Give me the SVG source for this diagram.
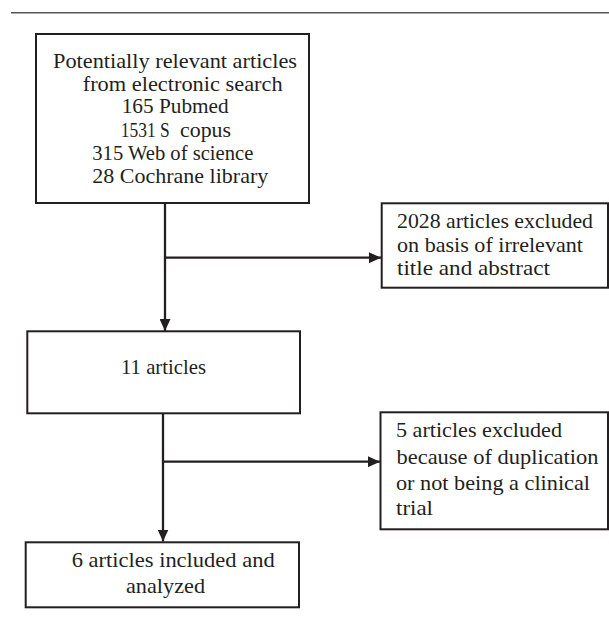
<svg xmlns="http://www.w3.org/2000/svg" width="609" height="617" viewBox="0 0 609 617">
<style>
.box{fill:#fff;stroke:#231f20;stroke-width:2}
.t{font-family:'Liberation Serif','Times New Roman',serif;font-size:21px;fill:#231f20}
.c{fill:none;stroke:#231f20;stroke-width:2.3}
</style>
<defs>
<marker id="ah" viewBox="0 0 12 11" refX="12" refY="5.5" markerWidth="12" markerHeight="11" markerUnits="userSpaceOnUse" orient="auto">
<path d="M0,0 L12,5.5 L0,11 Z" fill="#231f20"/>
</marker>
</defs>
<rect width="609" height="617" fill="#fff"/>
<line x1="11" y1="12.7" x2="609" y2="12.7" stroke="#555" stroke-width="1.6"/>
<g id="n1">
<rect class="box" x="36" y="34" width="273" height="169"/>
<text class="t" x="53" y="68" textLength="244" lengthAdjust="spacingAndGlyphs">Potentially relevant articles</text>
<text class="t" x="82.7" y="90.7" textLength="200" lengthAdjust="spacingAndGlyphs">from electronic search</text>
<text class="t" x="121.7" y="113.3" textLength="107" lengthAdjust="spacingAndGlyphs">165 Pubmed</text>
<text class="t" y="136.7"><tspan x="120.7" textLength="49" lengthAdjust="spacingAndGlyphs">1531 S</tspan> <tspan x="180" textLength="51" lengthAdjust="spacingAndGlyphs">copus</tspan></text>
<text class="t" x="92.3" y="160" textLength="161" lengthAdjust="spacingAndGlyphs">315 Web of science</text>
<text class="t" x="92.3" y="183" textLength="176" lengthAdjust="spacingAndGlyphs">28 Cochrane library</text>
</g>
<g id="n2">
<rect class="box" x="381.7" y="203.3" width="226.3" height="84.4"/>
<text class="t" x="397" y="228.3" textLength="196" lengthAdjust="spacingAndGlyphs">2028 articles excluded</text>
<text class="t" x="397" y="251.7" textLength="186" lengthAdjust="spacingAndGlyphs">on basis of irrelevant</text>
<text class="t" x="397" y="275" textLength="153" lengthAdjust="spacingAndGlyphs">title and abstract</text>
</g>
<g id="n3">
<rect class="box" x="27.3" y="331.3" width="272.7" height="82"/>
<text class="t" x="121" y="374" textLength="85" lengthAdjust="spacingAndGlyphs">11 articles</text>
</g>
<g id="n4">
<rect class="box" x="380.5" y="412.3" width="227.5" height="117"/>
<text class="t" x="396" y="436.7" textLength="166" lengthAdjust="spacingAndGlyphs">5 articles excluded</text>
<text class="t" x="396.5" y="463.5" textLength="202" lengthAdjust="spacingAndGlyphs">because of duplication</text>
<text class="t" x="396" y="490" textLength="194" lengthAdjust="spacingAndGlyphs">or not being a clinical</text>
<text class="t" x="396" y="515" textLength="37" lengthAdjust="spacingAndGlyphs">trial</text>
</g>
<g id="n5">
<rect class="box" x="25.7" y="542.3" width="273.3" height="65"/>
<text class="t" x="71.7" y="566.7" textLength="203" lengthAdjust="spacingAndGlyphs">6 articles included and</text>
<text class="t" x="126" y="593.3" textLength="79" lengthAdjust="spacingAndGlyphs">analyzed</text>
</g>
<g id="connectors">
<line class="c" x1="165" y1="203" x2="165" y2="331" marker-end="url(#ah)"/>
<line class="c" x1="165" y1="257.7" x2="381" y2="257.7" marker-end="url(#ah)"/>
<line class="c" x1="163" y1="413.3" x2="163" y2="541.5" marker-end="url(#ah)"/>
<line class="c" x1="163" y1="461.7" x2="380" y2="461.7" marker-end="url(#ah)"/>
</g>
</svg>
